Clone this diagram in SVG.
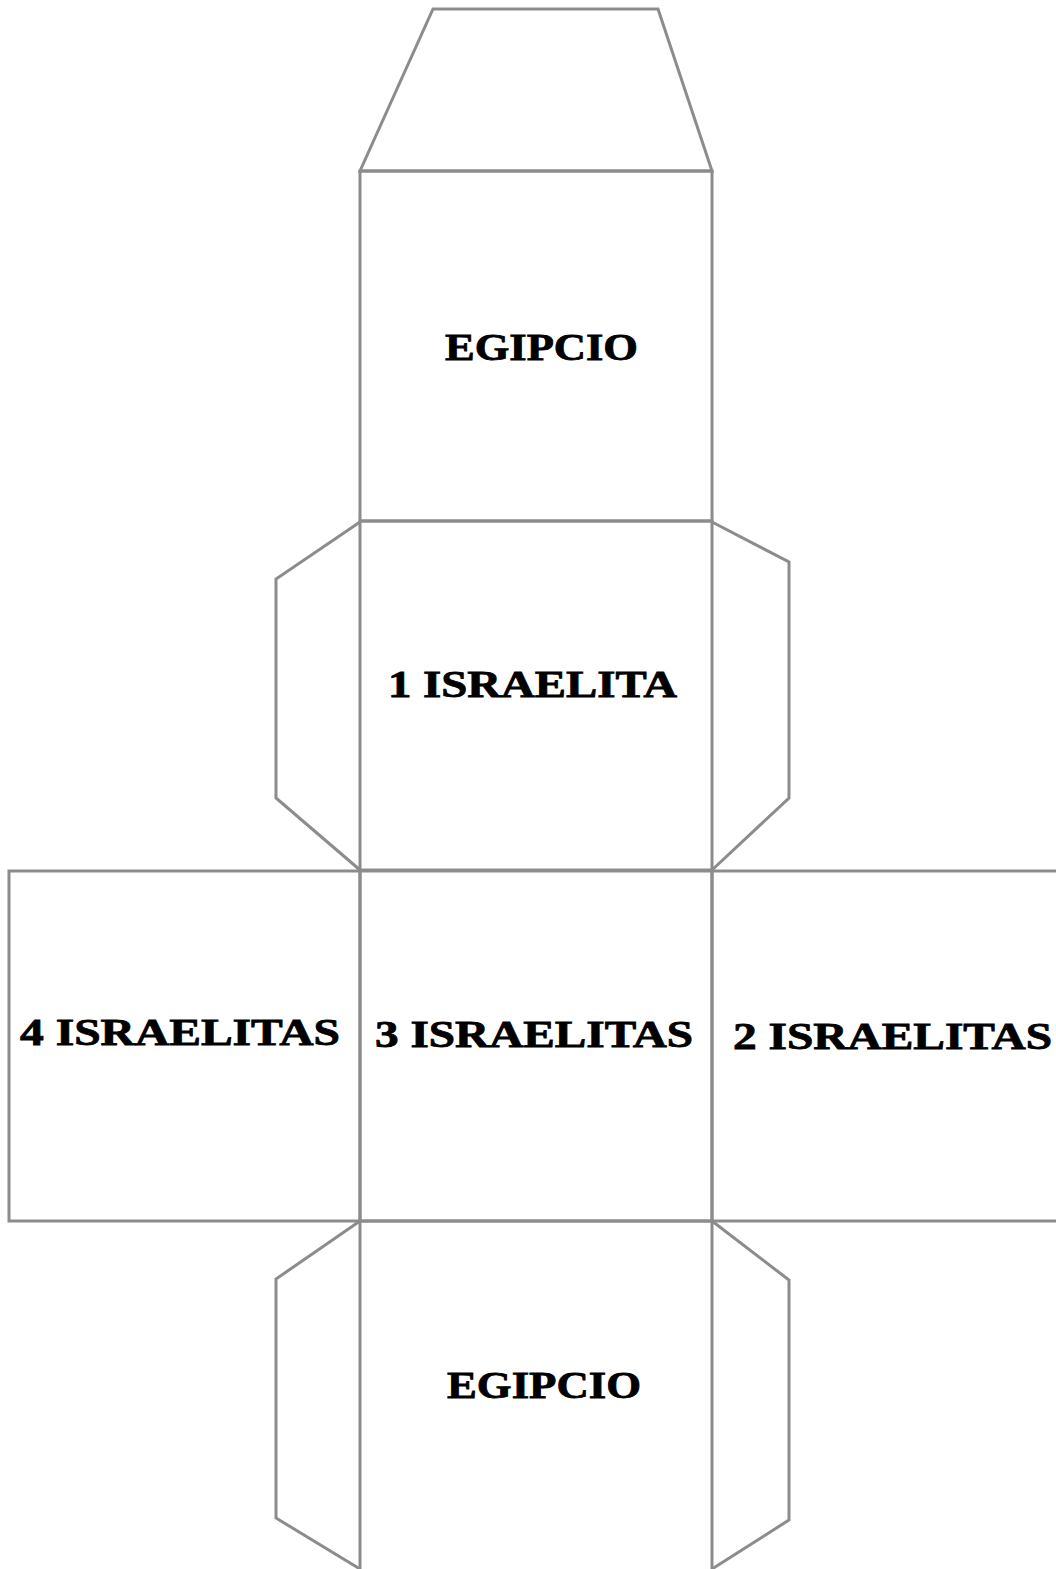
<svg xmlns="http://www.w3.org/2000/svg" width="1056" height="1569" viewBox="0 0 1056 1569">
<style>
.l{fill:none;stroke:#8c8c8c;stroke-width:3;stroke-linejoin:miter}
.t{font-family:"Liberation Serif","Times New Roman",serif;font-weight:bold;font-size:38px;fill:#000;stroke:#000;stroke-width:0.8}
</style>
<rect width="1056" height="1569" fill="#fff"/>
<g id="tab-top"><polygon class="l" points="433,9 658,9 712,171 360,171"/></g>
<g id="face-egipcio-top"><rect class="l" x="360" y="171" width="352" height="350"/><text class="t" x="445" y="360" textLength="193" lengthAdjust="spacingAndGlyphs">EGIPCIO</text></g>
<g id="face-1"><rect class="l" x="360" y="521" width="352" height="349"/><text class="t" x="388" y="697" textLength="289" lengthAdjust="spacingAndGlyphs">1 ISRAELITA</text></g>
<g id="tab-1-left"><polyline class="l" points="360,522 276,579 276,798 360,870"/></g>
<g id="tab-1-right"><polyline class="l" points="712,522 789,562 789,798 712,870"/></g>
<g id="face-4"><rect class="l" x="9" y="871" width="351" height="350"/><text class="t" x="20" y="1045" textLength="320" lengthAdjust="spacingAndGlyphs">4 ISRAELITAS</text></g>
<g id="face-3"><rect class="l" x="360" y="871" width="352" height="350"/><text class="t" x="375" y="1047" textLength="318" lengthAdjust="spacingAndGlyphs">3 ISRAELITAS</text></g>
<g id="face-2"><polyline class="l" points="1058,871 712,871 712,1221 1058,1221"/><text class="t" x="733" y="1049" textLength="319" lengthAdjust="spacingAndGlyphs">2 ISRAELITAS</text></g>
<g id="face-egipcio-bottom"><polyline class="l" points="360,1575 360,1221 712,1221 712,1575"/><text class="t" x="447" y="1398" textLength="194" lengthAdjust="spacingAndGlyphs">EGIPCIO</text></g>
<g id="tab-bottom-left"><polyline class="l" points="360,1221 276,1279 276,1518 360,1569"/></g>
<g id="tab-bottom-right"><polyline class="l" points="712,1221 789,1280 789,1520 712,1569"/></g>
</svg>
